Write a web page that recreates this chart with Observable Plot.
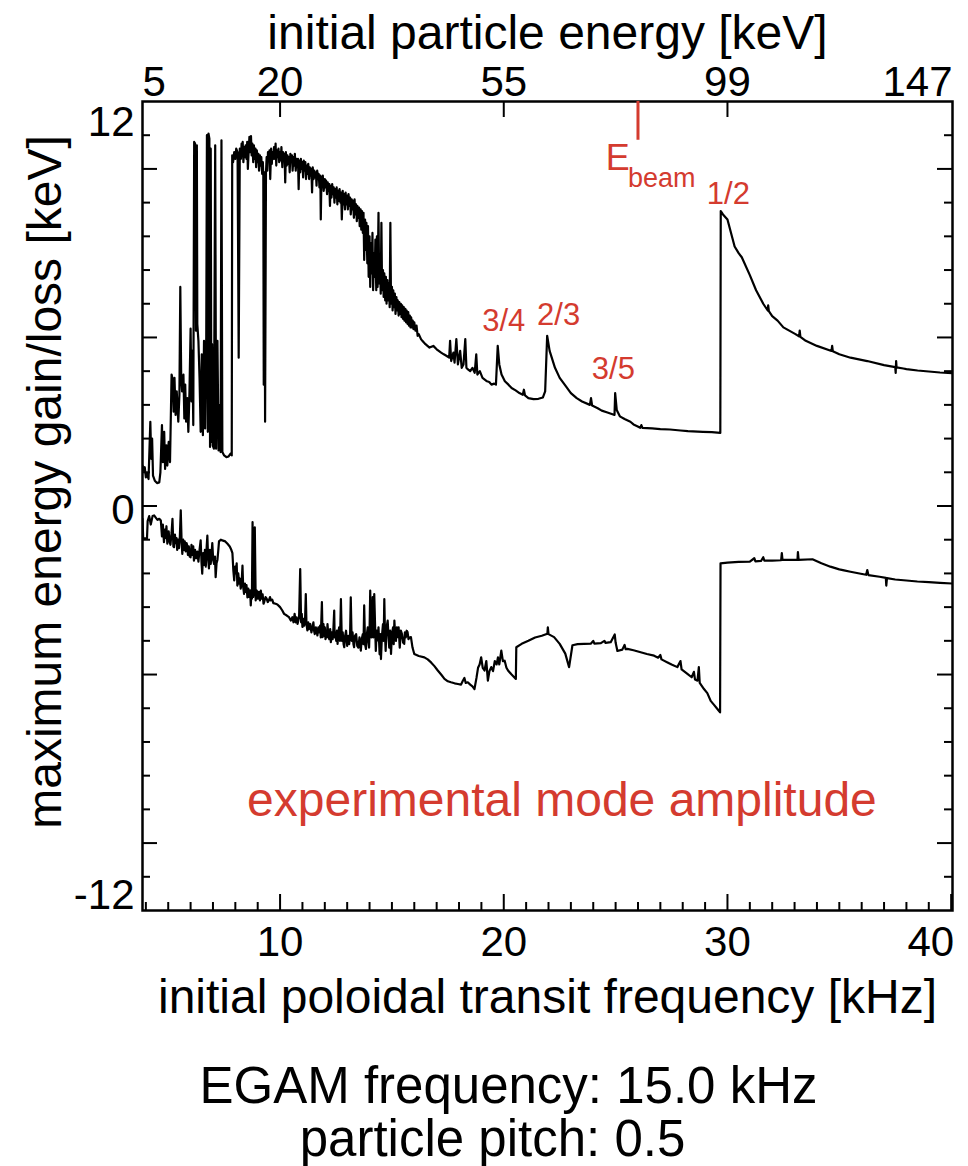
<!DOCTYPE html>
<html>
<head>
<meta charset="utf-8">
<script src="https://cdn.jsdelivr.net/npm/d3@7"></script>
<script src="https://cdn.jsdelivr.net/npm/@observablehq/plot@0.6"></script>
<style>
  body { margin: 0; background: #fff; }
  #chart svg { display: block; }
</style>
</head>
<body>
<div id="chart"></div>
<script>
// ---------- data ----------
// upper curve: [initial poloidal transit frequency (kHz), max energy gain (keV)]
const gainCurve = [
[3.85,1.2],[3.9,1.05],[3.95,1.15],[4.0,0.85],[4.05,0.95],[4.12,0.8],[4.2,2.5],[4.24,1.4],[4.28,2.0],[4.32,0.9],[4.4,0.75],[4.5,0.68],[4.6,0.7],[4.65,1.0],[4.72,2.4],[4.76,1.3],[4.82,2.2],[4.86,1.1],[4.92,1.8],[4.96,1.2],[5.02,1.9],[5.08,1.3],[5.15,3.9],[5.2,3.75],[5.24,2.8],[5.28,3.8],[5.33,2.7],[5.38,3.4],[5.45,2.5],[5.5,3.3],[5.54,6.5],[5.58,3.8],[5.62,3.4],[5.68,3.9],[5.72,2.6],[5.76,3.6],[5.8,2.5],[5.85,3.2],[5.9,2.2],[5.95,3.4],[6.0,5.26],[6.04,3.1],[6.08,4.6],[6.12,2.4],[6.16,10.8],[6.2,10.75],[6.24,5.2],[6.28,10.7],[6.3,5.4],[6.35,4.9],[6.4,3.8],[6.45,2.2],[6.5,4.5],[6.55,2.1],[6.6,4.9],[6.65,2.3],[6.7,5.0],[6.73,11.0],[6.77,2.2],[6.8,11.05],[6.84,10.9],[6.87,1.75],[6.9,10.6],[6.93,1.9],[6.96,4.8],[6.99,1.8],[7.04,1.7],[7.1,10.7],[7.14,1.7],[7.2,4.9],[7.25,1.65],[7.3,3.0],[7.34,1.6],[7.38,10.85],[7.42,1.6],[7.5,1.5],[7.6,1.45],[7.7,1.47],[7.78,1.55],[7.84,1.5],[7.86,10.4],[7.9,10.2],[7.95,10.5],[8.0,10.3],[8.04,10.6],[8.1,10.5],[8.15,4.4],[8.2,10.6],
[8.25,10.3],[8.28,10.75],[8.3,10.4],[8.33,10.8],[8.36,10.2],[8.4,10.65],[8.43,10.35],[8.46,10.7],[8.5,10.3],[8.53,10.8],[8.56,10.0],[8.6,10.6],[8.63,10.95],[8.66,10.5],[8.7,10.97],[8.73,10.4],[8.76,10.75],[8.8,10.2],[8.83,10.7],[8.86,10.3],[8.9,10.6],[8.93,10.05],[8.96,10.55],[9.0,10.2],[9.03,10.45],[9.06,9.95],[9.1,10.4],[9.13,10.1],[9.16,10.35],[9.2,9.85],[9.23,10.2],[9.25,9.8],[9.27,3.6],[9.3,9.9],[9.33,2.5],[9.37,9.9],
[9.4,10.35],[9.43,9.95],[9.46,10.5],[9.5,10.25],[9.53,10.55],[9.56,9.7],[9.6,10.6],[9.63,10.15],[9.66,10.5],[9.7,10.3],[9.73,10.65],[9.76,10.3],[9.8,10.75],[9.83,10.1],[9.86,10.55],[9.9,10.35],[9.93,10.6],[9.96,10.2],[10.0,10.5],[10.03,10.25],[10.06,10.65],[10.1,10.05],[10.13,10.5],[10.16,10.3],[10.2,10.45],[10.23,9.6],[10.26,10.5],[10.3,10.1],[10.33,10.4],[10.36,10.15],[10.4,10.35],[10.43,9.9],[10.46,10.45],[10.5,10.2],[10.53,10.4],[10.56,9.95],[10.6,10.35],[10.63,10.1],[10.66,10.45],[10.7,9.95],[10.73,10.3],[10.76,10.05],[10.8,10.3],[10.83,9.4],[10.86,10.25],[10.9,9.9],[10.93,10.3],[10.96,10.0],[11.0,10.2],[11.03,9.75],[11.06,10.25],[11.1,9.95],[11.13,10.2],[11.16,9.7],[11.2,10.1],[11.23,9.85],[11.26,10.15],[11.3,9.7],[11.33,10.05],[11.36,9.8],[11.4,10.0],[11.43,9.3],[11.46,10.05],[11.5,9.7],[11.53,9.95],[11.56,9.75],[11.6,9.9],[11.63,9.5],[11.66,9.95],[11.7,9.7],[11.73,9.85],[11.76,9.45],[11.8,9.8],[11.82,8.5],[11.85,9.75],[11.88,9.5],[11.91,9.8],[11.95,9.35],[12.0,9.7],[12.03,9.45],[12.06,9.65],[12.1,9.25],[12.13,9.6],[12.16,9.35],[12.2,9.55],[12.23,8.9],[12.26,9.5],[12.3,9.15],[12.33,9.55],[12.36,9.25],[12.4,9.45],[12.43,9.0],[12.46,9.4],[12.5,9.15],[12.53,9.45],[12.56,8.95],[12.6,9.35],[12.63,9.05],[12.66,9.4],[12.7,9.0],[12.73,9.3],[12.76,8.5],[12.8,9.35],[12.83,8.95],[12.86,9.25],[12.9,8.8],[12.93,9.3],[12.96,8.95],[13.0,9.2],[13.03,8.8],[13.06,9.25],[13.1,8.9],[13.13,9.15],[13.16,8.65],[13.2,9.1],[13.23,8.8],[13.26,9.05],[13.3,8.55],[13.33,9.1],[13.36,8.65],[13.4,8.95],[13.43,8.45],[13.46,8.9],[13.5,8.55],[13.53,8.85],[13.56,8.3],[13.6,8.8],[13.63,8.2],[13.66,8.75],[13.7,8.1],[13.73,8.7],[13.76,7.3],[13.8,8.5],[13.83,7.6],[13.86,8.4],[13.9,7.2],[13.93,8.3],[13.96,6.8],[14.0,8.0],[14.03,6.5],[14.06,7.8],[14.1,6.9],[14.13,8.1],[14.16,6.4],[14.2,7.5],[14.23,6.8],[14.26,7.9],[14.3,6.4],[14.33,8.0],[14.36,6.5],[14.4,8.7],[14.43,6.6],[14.46,7.4],[14.5,6.3],[14.53,8.4],[14.56,6.4],[14.6,7.0],[14.63,6.2],[14.66,6.9],[14.7,6.1],[14.73,6.8],[14.76,6.0],[14.8,6.7],[14.83,6.1],[14.86,6.6],[14.9,5.9],[14.93,8.4],[14.96,6.0],[15.0,6.5],[15.03,5.8],[15.06,6.4],[15.1,5.9],[15.13,6.3],[15.16,5.7],[15.2,6.2],[15.23,5.8],[15.26,6.1],[15.3,5.65],[15.33,6.05],[15.36,5.7],[15.4,6.0],[15.43,5.6],[15.46,5.95],[15.5,5.55],[15.53,5.9],[15.56,5.5],[15.6,5.85],[15.63,5.45],[15.66,5.8],[15.7,5.4],[15.73,5.75],[15.76,5.35],[15.8,5.65],[15.83,5.3],[15.86,5.6],[15.9,5.3],[15.93,5.5],[15.96,5.25],[16.0,5.45],[16.05,5.2],[16.1,5.35],[16.15,5.05],[16.2,5.1],[16.3,4.95],[16.36,4.9],
[16.5,4.8],[16.68,4.7],[16.85,4.75],[17.0,4.65],[17.2,4.55],[17.32,4.5],[17.45,4.45],[17.56,4.4],[17.6,4.9],[17.65,4.3],[17.75,4.55],[17.8,4.25],[17.88,4.95],[17.95,4.2],[18.05,4.6],[18.12,4.1],[18.2,4.2],[18.28,4.95],[18.33,4.1],[18.4,4.05],[18.5,4.0],[18.6,4.1],[18.7,3.95],[18.77,4.5],[18.82,3.9],[18.93,4.0],[19.05,3.8],[19.15,3.75],[19.25,3.7],[19.35,3.68],[19.45,3.6],[19.57,3.63],[19.65,3.6],[19.73,4.75],[19.8,4.2],[19.9,3.9],[20.05,3.7],[20.21,3.6],[20.35,3.5],[20.53,3.43],[20.7,3.35],[20.85,3.3],[20.9,3.45],[20.95,3.28],[21.1,3.2],[21.33,3.17],[21.55,3.18],[21.75,3.22],[21.85,3.4],[21.94,5.05],[22.05,4.6],[22.29,4.1],[22.5,3.8],[22.78,3.55],[23.0,3.35],[23.26,3.2],[23.5,3.1],[23.85,3.0],[23.9,3.2],[23.95,2.98],[24.2,2.9],[24.38,2.83],[24.6,2.78],[24.86,2.72],[24.95,2.7],[24.98,3.35],[25.05,2.85],[25.19,2.66],[25.4,2.58],[25.66,2.5],[25.8,2.42],[25.99,2.36],[26.1,2.32],[26.15,2.4],[26.2,2.32],[26.63,2.3],[27.0,2.28],[27.43,2.27],[27.9,2.24],[28.23,2.22],[28.9,2.2],[29.3,2.19],[29.68,2.17],[29.7,8.75],[29.8,8.65],[30.0,8.5],[30.32,7.7],[30.5,7.5],[30.64,7.38],[31.0,6.85],[31.28,6.4],[31.6,6.0],[31.8,5.8],[31.82,5.95],[31.85,5.78],[32.0,5.63],[32.24,5.5],[32.5,5.3],[33.04,5.1],[33.2,5.03],[33.23,5.2],[33.26,5.02],[33.5,4.9],[34.0,4.75],[34.65,4.6],[34.68,4.75],[34.71,4.59],[35.0,4.5],[35.5,4.4],[36.25,4.3],[37.0,4.18],[37.5,4.12],[37.52,3.95],[37.54,4.3],[37.56,4.11],[37.86,4.08],[38.0,4.06],[38.5,4.02],[39.0,3.99],[39.5,3.96],[40.06,3.94]
];
// lower curve: [initial poloidal transit frequency (kHz), max energy loss (keV)]
const lossCurve = [
[3.85,-0.38],[3.88,-0.95],[4.05,-0.97],[4.08,-0.45],[4.15,-0.3],[4.22,-0.55],[4.3,-0.3],[4.37,-0.28],[4.45,-0.35],[4.52,-0.41],[4.6,-0.38],[4.67,-0.43],[4.72,-0.9],[4.76,-0.55],[4.81,-1.07],[4.85,-0.7],[4.88,-0.95],[4.92,-0.6],[4.96,-1.12],[5.02,-0.75],[5.06,-1.05],[5.1,-1.15],[5.15,-0.8],[5.19,-0.38],[5.23,-1.2],[5.26,-1.22],[5.3,-0.85],[5.33,-1.1],[5.37,-0.95],[5.4,-1.3],[5.44,-1.0],[5.48,-1.25],[5.52,-0.9],[5.56,-0.13],[5.6,-1.1],[5.63,-1.42],[5.67,-1.0],[5.7,-1.3],[5.74,-1.05],[5.78,-1.35],[5.82,-1.1],[5.85,-1.17],[5.88,-1.45],[5.92,-1.2],[5.96,-1.5],[6.0,-1.52],[6.04,-1.15],[6.08,-1.45],[6.12,-1.2],[6.15,-1.62],[6.2,-1.3],[6.25,-1.55],[6.3,-1.35],[6.35,-1.65],[6.4,-1.3],[6.45,-1.02],[6.49,-1.7],[6.52,-2.01],[6.56,-1.4],[6.6,-1.75],[6.64,-1.3],[6.68,-1.8],[6.72,-1.2],[6.75,-0.88],[6.78,-1.5],[6.82,-1.85],[6.86,-1.3],[6.9,-1.72],[6.94,-1.4],[6.97,-1.1],[7.01,-1.6],[7.05,-1.72],[7.09,-1.5],[7.12,-2.11],[7.16,-1.7],[7.2,-1.6],[7.24,-1.3],[7.27,-1.05],[7.35,-1.0],[7.42,-1.02],[7.55,-1.05],[7.65,-1.12],[7.75,-1.2],[7.82,-1.3],[7.87,-1.4],[7.91,-1.9],[7.95,-2.21],[7.99,-1.8],[8.02,-2.0],[8.06,-1.7],[8.09,-2.36],[8.13,-2.0],[8.17,-2.3],[8.2,-2.15],[8.24,-2.45],[8.28,-2.3],[8.32,-1.77],[8.35,-2.4],[8.39,-2.61],[8.43,-2.3],[8.47,-2.55],[8.5,-2.35],[8.54,-2.71],[8.58,-2.45],[8.62,-2.7],[8.66,-2.5],[8.69,-2.95],[8.72,-2.55],[8.74,-2.75],[8.77,-0.48],[8.8,-2.7],[8.84,-2.5],[8.87,-0.63],[8.91,-2.8],[8.96,-2.51],[9.0,-2.75],[9.05,-2.55],[9.1,-2.8],[9.14,-2.51],[9.18,-2.75],[9.22,-2.62],[9.26,-2.9],[9.29,-2.85],[9.35,-2.7],[9.4,-2.75],[9.45,-2.85],[9.5,-2.8],[9.55,-2.7],[9.59,-2.8],[9.65,-2.78],[9.7,-2.88],[9.8,-2.9],[9.88,-2.92],[10.0,-3.0],[10.1,-3.1],[10.18,-3.2],[10.3,-3.25],[10.4,-3.3],[10.48,-3.4],[10.55,-3.3],[10.6,-3.45],[10.65,-3.2],[10.7,-3.45],[10.74,-3.3],[10.78,-3.5],[10.85,-3.3],[10.9,-1.87],[10.94,-3.45],[10.97,-3.2],[11.0,-3.59],[11.04,-3.35],[11.08,-3.55],[11.12,-3.3],[11.15,-2.61],[11.18,-3.5],[11.22,-3.69],[11.26,-3.45],[11.3,-3.65],[11.35,-3.5],[11.4,-3.75],[11.45,-3.6],[11.49,-3.45],[11.52,-3.7],[11.55,-3.8],[11.6,-3.6],[11.67,-3.84],[11.71,-3.6],[11.75,-3.75],[11.79,-3.55],[11.82,-3.9],[11.87,-2.85],[11.9,-3.89],[11.94,-3.5],[11.97,-3.85],[12.0,-3.6],[12.03,-3.95],[12.06,-3.7],[12.09,-3.9],[12.12,-3.5],[12.16,-3.85],[12.2,-3.95],[12.24,-3.65],[12.27,-4.04],[12.31,-3.75],[12.35,-3.95],[12.38,-3.7],[12.42,-3.1],[12.44,-3.9],[12.47,-3.75],[12.51,-4.0],[12.54,-3.7],[12.57,-4.09],[12.6,-3.8],[12.64,-3.6],[12.68,-4.0],[12.72,-2.76],[12.76,-4.0],[12.8,-3.75],[12.84,-4.1],[12.87,-4.19],[12.91,-3.85],[12.95,-3.7],[13.0,-4.15],[13.05,-3.85],[13.09,-4.1],[13.13,-3.8],[13.16,-2.71],[13.2,-4.0],[13.24,-3.75],[13.28,-4.1],[13.31,-4.19],[13.35,-3.85],[13.4,-3.8],[13.45,-4.15],[13.5,-4.2],[13.55,-3.9],[13.61,-4.29],[13.65,-3.95],[13.7,-3.8],[13.73,-4.1],[13.76,-2.95],[13.8,-4.1],[13.84,-4.24],[13.88,-3.8],[13.92,-3.6],[13.95,-4.0],[13.98,-4.2],[14.0,-3.7],[14.03,-2.51],[14.06,-3.6],[14.08,-3.9],[14.11,-3.5],[14.14,-2.7],[14.17,-3.9],[14.21,-2.61],[14.25,-3.6],[14.28,-4.3],[14.32,-3.7],[14.36,-3.99],[14.4,-3.6],[14.45,-4.4],[14.48,-3.8],[14.51,-4.54],[14.55,-3.9],[14.6,-3.5],[14.63,-4.0],[14.66,-2.76],[14.69,-3.8],[14.72,-4.3],[14.76,-3.6],[14.81,-3.4],[14.85,-3.9],[14.88,-4.2],[14.92,-3.7],[14.96,-4.39],[15.0,-3.8],[15.05,-3.6],[15.08,-4.1],[15.11,-3.4],[15.15,-3.9],[15.18,-4.0],[15.22,-3.6],[15.26,-3.89],[15.3,-3.6],[15.35,-4.2],[15.4,-3.7],[15.45,-3.8],[15.5,-4.05],[15.55,-4.09],[15.58,-3.75],[15.62,-3.9],[15.66,-3.7],[15.7,-3.74],[15.74,-3.95],[15.78,-3.9],[15.85,-3.89],[15.92,-4.2],[16.0,-4.39],[16.2,-4.45],[16.45,-4.49],[16.6,-4.55],[16.75,-4.64],[16.9,-4.75],[17.05,-4.88],[17.2,-5.0],[17.35,-5.13],[17.5,-5.2],[17.64,-5.23],[17.8,-5.26],[17.95,-5.28],[18.09,-5.3],[18.16,-5.2],[18.24,-5.1],[18.3,-5.25],[18.39,-5.23],[18.5,-5.3],[18.6,-5.35],[18.69,-5.43],[18.78,-5.1],[18.85,-4.8],[18.92,-4.7],[18.99,-4.49],[19.06,-4.8],[19.14,-4.88],[19.22,-4.6],[19.29,-5.18],[19.36,-4.9],[19.44,-4.78],[19.52,-4.9],[19.6,-4.6],[19.68,-4.7],[19.74,-4.49],[19.8,-4.7],[19.89,-4.29],[19.96,-4.6],[20.04,-4.59],[20.12,-4.8],[20.19,-4.88],[20.35,-5.0],[20.54,-5.13],[20.56,-4.19],[20.8,-4.09],[21.1,-4.0],[21.4,-3.9],[21.7,-3.85],[21.95,-3.79],[21.97,-3.6],[22.0,-3.8],[22.25,-3.89],[22.5,-4.09],[22.75,-4.38],[22.92,-4.78],[23.07,-4.13],[23.3,-4.1],[23.59,-4.09],[23.9,-4.08],[24.0,-4.0],[24.05,-4.08],[24.34,-4.07],[24.5,-4.0],[24.55,-4.06],[24.78,-4.04],[24.96,-3.81],[25.0,-4.05],[25.08,-4.3],[25.3,-4.26],[25.4,-4.12],[25.45,-4.25],[25.53,-4.24],[25.8,-4.28],[26.12,-4.34],[26.4,-4.39],[26.72,-4.44],[26.9,-4.5],[27.0,-4.42],[27.05,-4.55],[27.32,-4.64],[27.5,-4.7],[27.76,-4.78],[27.9,-4.6],[27.95,-4.85],[28.21,-4.98],[28.4,-5.08],[28.5,-4.92],[28.55,-5.15],[28.66,-5.18],[28.72,-4.78],[28.76,-5.25],[28.95,-5.43],[29.1,-5.55],[29.25,-5.78],[29.4,-5.9],[29.55,-6.02],[29.67,-6.12],[29.69,-1.7],[30.0,-1.68],[30.5,-1.66],[31.0,-1.65],[31.2,-1.55],[31.25,-1.64],[31.5,-1.63],[31.6,-1.52],[31.65,-1.62],[32.0,-1.62],[32.4,-1.61],[32.43,-1.4],[32.46,-1.6],[33.0,-1.6],[33.13,-1.6],[33.15,-1.37],[33.18,-1.6],[33.8,-1.58],[34.2,-1.7],[34.6,-1.8],[35.0,-1.88],[35.21,-1.91],[35.5,-1.95],[35.96,-2.01],[36.2,-2.04],[36.25,-1.9],[36.3,-2.05],[36.8,-2.1],[37.08,-2.13],[37.1,-2.36],[37.13,-2.14],[37.5,-2.18],[38.0,-2.21],[38.49,-2.24],[39.0,-2.26],[39.5,-2.28],[40.06,-2.3]
];

// axes
const freqDomain = [3.85, 40.06];
const energyDomain = [-12, 12];
const freqMajorTicks = [10, 20, 30];
const freqLastTick = [40];
const freqMinorTicks = d3.range(4, 41).filter(d => d % 10 !== 0);
const energyMinorTicks = d3.range(-11, 12).filter(d => d % 5 !== 0);
const energyMajorTicks = [-10, -5, 0, 5, 10];
const energyTickLabels = [12, 0, -12];
// top axis: initial particle energy (keV) labels at frequency positions
const topTickFreq = [10, 20, 30];
const topTickLabels = ["20", "55", "99"];
const topFirstLabel = "5";
const topLastLabel = "147";

// annotations
const ebeamFreq = 26.0;
const ebeamTickEnergy = [12, 10.85];
const resonanceLabels = ["3/4", "2/3", "3/5", "1/2"];
const resonanceFreq = [20.0, 22.45, 24.9, 30.04];
const resonanceEnergy = [5.5, 5.65, 4.07, 9.24];
const modeText = "experimental mode amplitude";
const modeTextAt = [22.6, -8.74];

const xTitle = "initial poloidal transit frequency [kHz]";
const topTitle = "initial particle energy [keV]";
const yTitle = "maximum energy gain/loss [keV]";
const caption = ["EGAM frequency: 15.0 kHz", "particle pitch: 0.5"];

// ---------- chart ----------
const RED = "#d43b2f";
const W = 968, H = 1166;
const mL = 142, mR = 16, mT = 101, mB = 256;
const pw = W - mL - mR, ph = H - mT - mB;

const gain = gainCurve.map(([f, e]) => ({f, e}));
const loss = lossCurve.map(([f, e]) => ({f, e}));
const resonances = resonanceLabels.map((t, i) => ({t, f: resonanceFreq[i], e: resonanceEnergy[i]}));

const chart = Plot.plot({
  width: W, height: H,
  marginLeft: mL, marginRight: mR, marginTop: mT, marginBottom: mB,
  style: {fontFamily: "'Liberation Sans', Arial, Helvetica, sans-serif", background: "#fff", color: "black"},
  x: {domain: freqDomain, axis: null},
  y: {domain: energyDomain, axis: null},
  marks: [
    // curves
    Plot.line(gain, {x: "f", y: "e", stroke: "black", strokeWidth: 2.2, clip: true}),
    Plot.line(loss, {x: "f", y: "e", stroke: "black", strokeWidth: 2.2, clip: true}),
    // ticks (inward)
    Plot.tickX(freqMinorTicks, {x: d => d, stroke: "black", strokeWidth: 2, insetTop: ph - 8}),
    Plot.tickX([...freqMajorTicks, ...freqLastTick], {x: d => d, stroke: "black", strokeWidth: 2, insetTop: ph - 16}),
    Plot.tickX(topTickFreq, {x: d => d, stroke: "black", strokeWidth: 2, insetBottom: ph - 16}),
    Plot.tickY(energyMinorTicks, {y: d => d, stroke: "black", strokeWidth: 2, insetRight: pw - 8}),
    Plot.tickY(energyMajorTicks, {y: d => d, stroke: "black", strokeWidth: 2, insetRight: pw - 15}),
    Plot.tickY(energyMinorTicks, {y: d => d, stroke: "black", strokeWidth: 2, insetLeft: pw - 8}),
    Plot.tickY(energyMajorTicks, {y: d => d, stroke: "black", strokeWidth: 2, insetLeft: pw - 15}),
    Plot.frame({stroke: "black", strokeWidth: 2.5}),
    // bottom tick labels
    Plot.text(freqMajorTicks, {x: d => d, text: d => String(d), frameAnchor: "bottom", lineAnchor: "bottom", dy: 45, fontSize: 42, fill: "black"}),
    Plot.text(freqLastTick, {x: d => d, text: d => String(d), frameAnchor: "bottom", lineAnchor: "bottom", textAnchor: "end", dx: 3, dy: 45, fontSize: 42, fill: "black"}),
    // top tick labels
    Plot.text(topTickFreq, {x: d => d, text: (d, i) => topTickLabels[i], frameAnchor: "top", lineAnchor: "bottom", dy: -6, fontSize: 42, fill: "black"}),
    Plot.text([topFirstLabel], {frameAnchor: "top-left", lineAnchor: "bottom", textAnchor: "start", dy: -6, fontSize: 42, fill: "black"}),
    Plot.text([topLastLabel], {frameAnchor: "top-right", lineAnchor: "bottom", textAnchor: "end", dy: -6, fontSize: 42, fill: "black"}),
    // left tick labels
    Plot.text([energyTickLabels[0]], {y: d => d, text: d => String(d), frameAnchor: "left", textAnchor: "end", dx: -8, dy: 21, fontSize: 42, fill: "black"}),
    Plot.text([energyTickLabels[1]], {y: d => d, text: d => String(d), frameAnchor: "left", textAnchor: "end", dx: -8, dy: 5, fontSize: 42, fill: "black"}),
    Plot.text([energyTickLabels[2]], {y: d => d, text: d => String(d), frameAnchor: "left", textAnchor: "end", dx: -8, dy: -15, fontSize: 42, fill: "black"}),
    // titles
    Plot.text([topTitle], {frameAnchor: "top", lineAnchor: "bottom", dy: -53, fontSize: 48, fill: "black"}),
    Plot.text([xTitle], {frameAnchor: "bottom", lineAnchor: "bottom", dy: 102, fontSize: 48, fill: "black"}),
    Plot.text([yTitle], {frameAnchor: "left", textAnchor: "middle", rotate: -90, dx: -97, dy: -24, fontSize: 48, fill: "black"}),
    Plot.text([caption[0]], {frameAnchor: "bottom", lineAnchor: "bottom", dx: -39, dy: 192, fontSize: 51, fill: "black"}),
    Plot.text([caption[1]], {frameAnchor: "bottom", lineAnchor: "bottom", dx: -55, dy: 245, fontSize: 51, fill: "black"}),
    // annotations
    Plot.ruleX([ebeamFreq], {x: d => d, y1: ebeamTickEnergy[0], y2: ebeamTickEnergy[1], stroke: RED, strokeWidth: 3}),
    Plot.text(["E"], {x: ebeamFreq - 0.9, y: 9.96, lineAnchor: "bottom", fontSize: 36, fill: RED}),
    Plot.text(["beam"], {x: ebeamFreq + 1.06, y: 9.45, lineAnchor: "bottom", fontSize: 27, fill: RED}),
    Plot.text(resonances, {x: "f", y: "e", text: "t", fontSize: 31, fill: RED}),
    Plot.text([modeText], {x: modeTextAt[0], y: modeTextAt[1], fontSize: 48, fill: RED})
  ]
});
document.getElementById("chart").appendChild(chart);
</script>
</body>
</html>
